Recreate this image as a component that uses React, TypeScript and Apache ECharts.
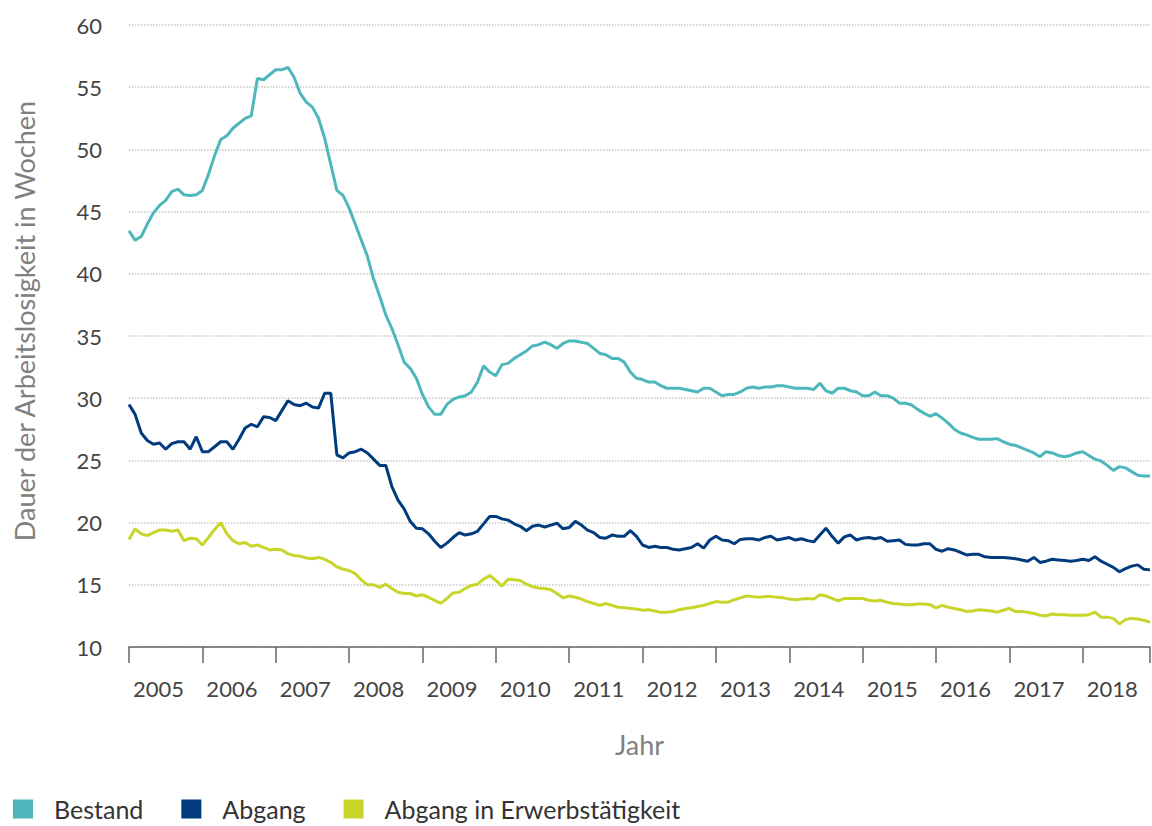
import React, { useEffect, useRef } from "react";
import * as echarts from "echarts";

const years = [2005, 2006, 2007, 2008, 2009, 2010, 2011, 2012, 2013, 2014, 2015, 2016, 2017, 2018];
const months = years.flatMap((y) =>
  ["01", "02", "03", "04", "05", "06", "07", "08", "09", "10", "11", "12"].map((m) => `${y}-${m}`)
);

const bestand = [
  43.45, 42.7, 43.0, 44.0, 44.9, 45.5, 45.9, 46.6, 46.8, 46.35, 46.3, 46.35,
  46.7, 48.0, 49.5, 50.8, 51.1, 51.7, 52.1, 52.5, 52.7, 55.7, 55.6, 56.0,
  56.4, 56.4, 56.6, 55.8, 54.5, 53.8, 53.4, 52.5, 50.9, 48.8, 46.7, 46.3,
  45.3, 44.0, 42.7, 41.4, 39.6, 38.2, 36.7, 35.6, 34.3, 32.9, 32.4, 31.6,
  30.3, 29.3, 28.7, 28.7, 29.5, 29.9, 30.1, 30.2, 30.5, 31.3, 32.6, 32.1,
  31.8, 32.7, 32.8, 33.2, 33.5, 33.8, 34.2, 34.3, 34.5, 34.3, 34.0, 34.4,
  34.6, 34.6, 34.5, 34.4, 34.0, 33.6, 33.5, 33.2, 33.2, 32.9, 32.1, 31.6,
  31.5, 31.3, 31.3, 31.0, 30.8, 30.8, 30.8, 30.7, 30.6, 30.5, 30.8, 30.8,
  30.5, 30.2, 30.3, 30.3, 30.5, 30.8, 30.9, 30.8, 30.9, 30.9, 31.0, 31.0,
  30.9, 30.8, 30.8, 30.8, 30.7, 31.2, 30.6, 30.4, 30.8, 30.8, 30.6, 30.5,
  30.2, 30.2, 30.5, 30.2, 30.2, 30.0, 29.6, 29.6, 29.45, 29.1, 28.8, 28.55,
  28.75, 28.4, 28.0, 27.5, 27.2, 27.05, 26.85, 26.7, 26.7, 26.7, 26.75, 26.5,
  26.3, 26.2, 26.0, 25.8, 25.6, 25.3, 25.7, 25.6, 25.4, 25.3, 25.4, 25.6,
  25.7, 25.4, 25.1, 24.95, 24.6, 24.2, 24.5, 24.4, 24.1, 23.8, 23.75, 23.75,
];

const abgang = [
  29.5, 28.7, 27.2, 26.6, 26.3, 26.4, 25.9, 26.35, 26.5, 26.5, 25.9, 26.9,
  25.7, 25.7, 26.1, 26.5, 26.5, 25.9, 26.7, 27.6, 27.9, 27.7, 28.5, 28.45,
  28.2, 29.0, 29.8, 29.5, 29.4, 29.6, 29.3, 29.2, 30.4, 30.4, 25.45, 25.2,
  25.6, 25.7, 25.9, 25.6, 25.1, 24.6, 24.6, 22.9, 21.8, 21.1, 20.1, 19.55,
  19.5, 19.1, 18.5, 18.0, 18.35, 18.8, 19.2, 19.0, 19.1, 19.3, 19.9, 20.5,
  20.5, 20.3, 20.2, 19.9, 19.7, 19.35, 19.7, 19.8, 19.65, 19.8, 19.95, 19.5,
  19.6, 20.1, 19.8, 19.4, 19.2, 18.8, 18.75, 19.0, 18.9, 18.9, 19.35, 18.9,
  18.2, 18.0, 18.1, 18.0, 18.0, 17.85, 17.8, 17.9, 18.0, 18.3, 17.95, 18.6,
  18.9, 18.6, 18.55, 18.3, 18.65, 18.7, 18.7, 18.6, 18.8, 18.9, 18.6, 18.7,
  18.8, 18.6, 18.7, 18.55, 18.45, 19.0, 19.55, 18.9, 18.35, 18.85, 19.0, 18.6,
  18.75, 18.8, 18.7, 18.8, 18.5, 18.55, 18.6, 18.25, 18.2, 18.2, 18.3, 18.3,
  17.85, 17.7, 17.9, 17.8, 17.6, 17.4, 17.45, 17.45, 17.25, 17.2, 17.2, 17.2,
  17.15, 17.1, 17.0, 16.9, 17.2, 16.8, 16.9, 17.05, 17.0, 16.95, 16.9, 16.95,
  17.05, 16.95, 17.25, 16.9, 16.65, 16.4, 16.05, 16.3, 16.5, 16.6, 16.25, 16.2,
];

const erwerb = [
  18.65, 19.5, 19.1, 18.95, 19.2, 19.4, 19.4, 19.3, 19.4, 18.55, 18.75, 18.7,
  18.2, 18.8, 19.45, 20.0, 19.1, 18.55, 18.3, 18.4, 18.1, 18.2, 18.0, 17.8,
  17.85, 17.8, 17.5, 17.35, 17.3, 17.15, 17.1, 17.2, 17.05, 16.8, 16.45, 16.25,
  16.15, 15.9, 15.4, 15.0, 15.0, 14.8, 15.05, 14.7, 14.4, 14.3, 14.3, 14.1,
  14.2, 14.0, 13.75, 13.5, 13.9, 14.35, 14.4, 14.7, 14.95, 15.05, 15.45, 15.75,
  15.35, 14.9, 15.45, 15.4, 15.35, 15.05, 14.85, 14.75, 14.7, 14.6, 14.3, 13.95,
  14.1, 14.0, 13.85, 13.65, 13.5, 13.35, 13.5, 13.35, 13.2, 13.15, 13.1, 13.05,
  12.95, 13.0, 12.9, 12.8, 12.8, 12.85, 13.0, 13.1, 13.15, 13.25, 13.35, 13.5,
  13.65, 13.6, 13.6, 13.8, 13.95, 14.1, 14.05, 14.0, 14.05, 14.05, 14.0, 13.95,
  13.85, 13.8, 13.85, 13.9, 13.85, 14.2, 14.1, 13.9, 13.7, 13.9, 13.9, 13.9,
  13.9, 13.75, 13.7, 13.75, 13.6, 13.5, 13.45, 13.4, 13.4, 13.45, 13.45, 13.4,
  13.15, 13.35, 13.2, 13.1, 13.0, 12.85, 12.9, 13.0, 12.95, 12.9, 12.8, 12.95,
  13.1, 12.85, 12.85, 12.8, 12.7, 12.55, 12.5, 12.65, 12.6, 12.6, 12.55, 12.55,
  12.55, 12.6, 12.8, 12.4, 12.4, 12.3, 11.85, 12.2, 12.3, 12.25, 12.15, 12.0,
];

const seriesNames = ["Bestand", "Abgang", "Abgang in Erwerbstätigkeit"];
const colors = ["#4db7bb", "#003b7e", "#c9d52b"];
const FONT = "Lato, 'Open Sans', sans-serif";

export default function App() {
  const ref = useRef<HTMLDivElement>(null);
  useEffect(() => {
    if (!ref.current) return;
    const chart = echarts.init(ref.current, undefined, { renderer: "svg" });
    const last = months.length - 1;
    chart.setOption({
      animation: false,
      backgroundColor: "#ffffff",
      textStyle: { fontFamily: FONT },
      grid: { left: 129, right: 2, top: 25, bottom: 179, containLabel: false },
      legend: {
        left: 13,
        top: 795,
        padding: 0,
        icon: "rect",
        itemWidth: 20,
        itemHeight: 19,
        itemGap: 38,
        textStyle: {
          fontSize: 25,
          lineHeight: 28,
          color: "#333",
          fontFamily: FONT,
          padding: [0, 0, 0, 16],
        },
        data: seriesNames,
      },
      xAxis: {
        type: "category",
        data: months,
        boundaryGap: false,
        name: "Jahr",
        nameLocation: "middle",
        nameGap: 84,
        nameTextStyle: { fontSize: 27, color: "#808080", fontFamily: FONT },
        axisLine: { show: true, lineStyle: { color: "#666", width: 1.5 } },
        axisTick: {
          show: true,
          length: 16,
          interval: (i: number) => i % 12 === 0 || i === last,
          lineStyle: { color: "#666", width: 1.5 },
        },
        axisLabel: {
          interval: (i: number) => i % 12 === 0,
          formatter: (v: string) => v.slice(0, 4),
          align: "left",
          padding: [0, 0, 0, 4],
          margin: 30,
          fontSize: 22,
          color: "#444",
          fontFamily: FONT,
        },
        splitLine: { show: false },
      },
      yAxis: {
        type: "value",
        min: 10,
        max: 60,
        interval: 5,
        name: "Dauer der Arbeitslosigkeit in Wochen",
        nameLocation: "middle",
        nameGap: 91,
        nameRotate: 90,
        nameTextStyle: {
          fontSize: 27,
          color: "#808080",
          fontFamily: FONT,
          padding: [0, 0, 0, 30],
        },
        axisLine: { show: false },
        axisTick: { show: false },
        axisLabel: { fontSize: 22, color: "#444", margin: 27, fontFamily: FONT },
        splitLine: { show: true, lineStyle: { color: "#c8c8c8", type: "dotted", width: 1.5 } },
      },
      series: [bestand, abgang, erwerb].map((d, i) => ({
        name: seriesNames[i],
        type: "line",
        data: d,
        showSymbol: false,
        symbol: "none",
        color: colors[i],
        lineStyle: { color: colors[i], width: 3 },
        z: 3 - i,
      })),
    });
    return () => chart.dispose();
  }, []);
  return (
    <div
      ref={ref}
      style={{ position: "fixed", left: 0, top: 0, width: 1152, height: 826, background: "#fff" }}
    />
  );
}
